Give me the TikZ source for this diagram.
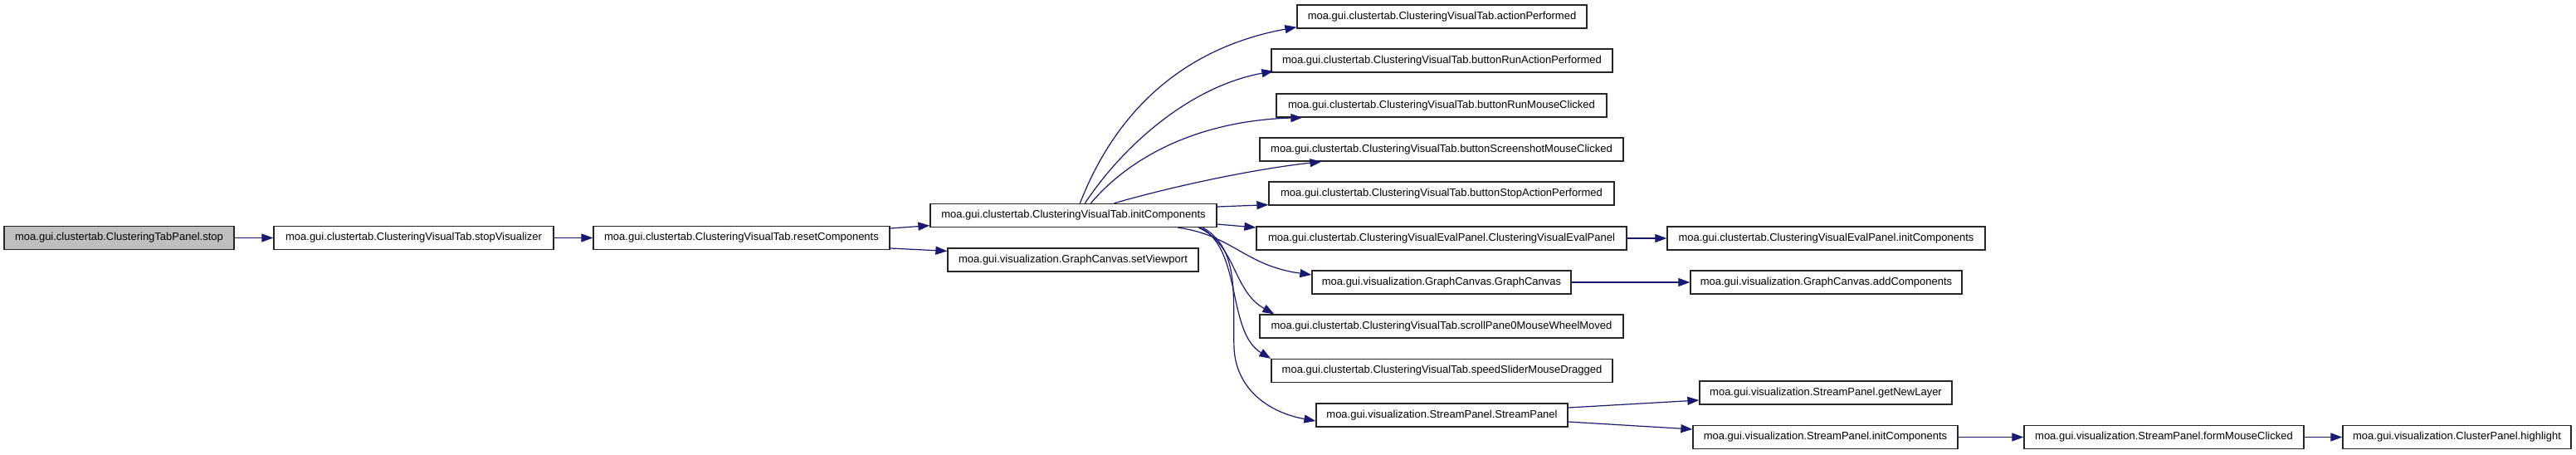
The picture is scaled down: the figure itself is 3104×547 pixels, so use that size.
\documentclass[tikz,border=0pt]{standalone}
\usepackage{fontspec}
\setmainfont{Liberation Sans}
\usetikzlibrary{arrows.meta,calc}
\definecolor{edgeblue}{RGB}{25,25,112}
\definecolor{boxgray}{RGB}{191,191,191}
\tikzset{
  fn/.style={draw=black!85, line width=1.3pt, fill=white, minimum height=28pt,
    inner xsep=0pt, inner ysep=0pt, font=\fontsize{13}{15}\selectfont, anchor=center},
  fnroot/.style={fn, fill=boxgray},
  call/.style={draw=edgeblue, line width=1.2pt, -{Triangle[length=14pt,width=10pt]}},
}
\begin{document}
\begin{tikzpicture}[x=1pt,y=-1pt]
\useasboundingbox (0,0) rectangle (3104,547);
% nodes
\node[fnroot, minimum width=277pt] (stop) at (143.5,286.5) {moa.gui.clustertab.ClusteringTabPanel.stop};
\node[fn, minimum width=337pt] (stopVis) at (498.5,286.5) {moa.gui.clustertab.ClusteringVisualTab.stopVisualizer};
\node[fn, minimum width=357pt] (reset) at (893.5,286.5) {moa.gui.clustertab.ClusteringVisualTab.resetComponents};
\node[fn, minimum width=345pt] (initC) at (1293.5,259.5) {moa.gui.clustertab.ClusteringVisualTab.initComponents};
\node[fn, minimum width=302pt] (setVP) at (1293,313) {moa.gui.visualization.GraphCanvas.setViewport};
\node[fn, minimum width=349pt] (act) at (1737.5,20) {moa.gui.clustertab.ClusteringVisualTab.actionPerformed};
\node[fn, minimum width=411pt] (bRunAct) at (1737.5,73) {moa.gui.clustertab.ClusteringVisualTab.buttonRunActionPerformed};
\node[fn, minimum width=398pt] (bRunMouse) at (1737,127) {moa.gui.clustertab.ClusteringVisualTab.buttonRunMouseClicked};
\node[fn, minimum width=438pt] (bScreen) at (1737,180) {moa.gui.clustertab.ClusteringVisualTab.buttonScreenshotMouseClicked};
\node[fn, minimum width=416pt] (bStop) at (1737,233) {moa.gui.clustertab.ClusteringVisualTab.buttonStopActionPerformed};
\node[fn, minimum width=446pt] (evalCtor) at (1737,287) {moa.gui.clustertab.ClusteringVisualEvalPanel.ClusteringVisualEvalPanel};
\node[fn, minimum width=312pt] (gcCtor) at (1737,340) {moa.gui.visualization.GraphCanvas.GraphCanvas};
\node[fn, minimum width=438pt] (scroll) at (1737,393) {moa.gui.clustertab.ClusteringVisualTab.scrollPane0MouseWheelMoved};
\node[fn, minimum width=411pt] (speed) at (1737.5,446.5) {moa.gui.clustertab.ClusteringVisualTab.speedSliderMouseDragged};
\node[fn, minimum width=303pt] (spCtor) at (1737.5,500) {moa.gui.visualization.StreamPanel.StreamPanel};
\node[fn, minimum width=383pt] (evalInit) at (2200.5,287) {moa.gui.clustertab.ClusteringVisualEvalPanel.initComponents};
\node[fn, minimum width=327pt] (addComp) at (2200.5,340) {moa.gui.visualization.GraphCanvas.addComponents};
\node[fn, minimum width=304pt] (getNew) at (2200,473) {moa.gui.visualization.StreamPanel.getNewLayer};
\node[fn, minimum width=319pt] (spInit) at (2199.5,526.5) {moa.gui.visualization.StreamPanel.initComponents};
\node[fn, minimum width=337pt] (form) at (2607.5,526.5) {moa.gui.visualization.StreamPanel.formMouseClicked};
\node[fn, minimum width=275pt] (hl) at (2960.5,526.5) {moa.gui.visualization.ClusterPanel.highlight};
% edges
\draw[call] (stop.east) -- (stopVis.west);
\draw[call] (stopVis.east) -- (reset.west);
\draw[call] ($(reset.east)+(0,-11.5)$) -- ($(initC.south west)+(0,-2.5)$);
\draw[call] ($(reset.east)+(0,12.5)$) -- ($(setVP.north west)+(0,4)$);
\draw[call] ($(initC.north west)+(181,0)$) .. controls (1350,120) and (1440,55) .. ($(act.south west)+(0,-2)$);
\draw[call] ($(initC.north west)+(187,0)$) .. controls (1350,180) and (1430,105) .. ($(bRunAct.south west)+(3,-2)$);
\draw[call] ($(initC.north west)+(194,0)$) .. controls (1365,185) and (1450,145) .. ($(bRunMouse.south west)+(32,0)$);
\draw[call] ($(initC.north west)+(222,0)$) .. controls (1400,228) and (1500,205) .. ($(bScreen.south west)+(75,0)$);
\draw[call] ($(initC.east)+(0,-10.5)$) -- ($(bStop.south west)+(0,-1)$);
\draw[call] ($(initC.east)+(0,10.5)$) -- ($(evalCtor.west)+(0,-13)$);
\draw[call] ($(initC.south west)+(299,0)$) .. controls (1485,283) and (1500,320) .. ($(gcCtor.west)+(0,-9)$);
\draw[call] ($(initC.south west)+(324,0)$) .. controls (1490,295) and (1485,350) .. ($(scroll.north west)+(18,0)$);
\draw[call] ($(initC.south west)+(326,0)$) .. controls (1497,300) and (1478,400) .. (speed.north west);
\draw[call] ($(initC.south west)+(329,0)$) .. controls (1495,300) and (1485,360) .. (1487,420)
  .. controls (1490,470) and (1530,497) .. ($(spCtor.west)+(0,7)$);
\draw[call] (evalCtor.east) -- (evalInit.west);
\draw[call] (gcCtor.east) -- (addComp.west);
\draw[call] ($(spCtor.east)+(0,-9)$) -- ($(getNew.west)+(0,9)$);
\draw[call] ($(spCtor.east)+(0,8)$) -- ($(spInit.west)+(0,-9.5)$);
\draw[call] (spInit.east) -- (form.west);
\draw[call] (form.east) -- (hl.west);
\end{tikzpicture}
\end{document}
